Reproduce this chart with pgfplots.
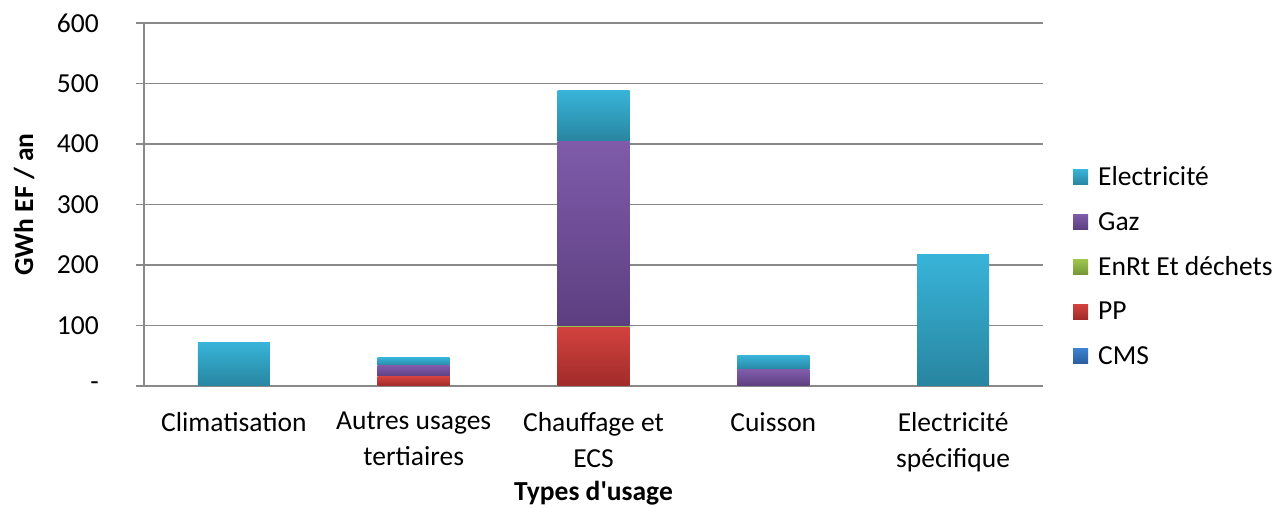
\documentclass[border=0pt]{standalone}
\usepackage{fontspec}
\setmainfont{Carlito}
\usepackage{pgfplots}
\pgfplotsset{compat=1.18}

\definecolor{gridgray}{HTML}{898989}
\definecolor{elecT}{HTML}{38B4D9}
\definecolor{elecB}{HTML}{2885A0}
\definecolor{gazT}{HTML}{7F5BAA}
\definecolor{gazB}{HTML}{5C3F80}
\definecolor{enrT}{HTML}{9DC64D}
\definecolor{enrB}{HTML}{759638}
\definecolor{ppT}{HTML}{D2423E}
\definecolor{ppB}{HTML}{A02B29}
\definecolor{cmsT}{HTML}{3B82D2}
\definecolor{cmsB}{HTML}{2A5E9C}

\newcommand\chartfont{\fontsize{27.5}{36}\selectfont}

\pgfplotsset{
    elec/.style={draw=none, shading=axis, top color=elecT, bottom color=elecB},
    gaz/.style={draw=none, shading=axis, top color=gazT, bottom color=gazB},
    enr/.style={draw=none, shading=axis, top color=enrT, bottom color=enrB},
    pp/.style={draw=none, shading=axis, top color=ppT, bottom color=ppB},
    cms/.style={draw=none, shading=axis, top color=cmsT, bottom color=cmsB},
    % one axis per category so that each bar gets its own gradient
    catax/.style={
        at={(0,0)}, anchor=south west,
        scale only axis,
        width=899pt, height=363pt,
        ybar stacked,
        bar width=72pt,
        xmin=-0.5, xmax=4.5,
        ymin=0, ymax=600,
        enlarge x limits=false,
        enlarge y limits=false,
        clip=false,
    },
}

\begin{document}
\begin{tikzpicture}
\useasboundingbox (-144pt,-122pt) rectangle (1133pt,386pt);
\begin{axis}[
    catax,
    axis lines*=left,
    axis line style={gridgray, line width=1.3pt},
    ymajorgrids,
    grid style={gridgray, line width=1.3pt},
    tick align=outside,
    major tick length=8pt,
    tick style={gridgray, line width=1.3pt},
    ytick={0,100,...,600},
    yticklabels={-\hspace{10pt},100,200,300,400,500,600},
    yticklabel style={font=\chartfont, inner sep=0pt, anchor=east, xshift=-37pt},
    xtick={0,1,2,3,4},
    xticklabels={Climatisation,{Autres usages\\tertiaires},{Chauffage et\\ECS},Cuisson,{Electricité\\spécifique}},
    x tick style={draw=none},
    xticklabel style={font=\chartfont, align=center, inner sep=0pt, anchor=north, yshift=-18pt},
    extra x ticks={-0.5,0.5,1.5,2.5,3.5,4.5},
    extra x tick labels={},
    extra x tick style={grid=none, major tick length=10pt,
        tick style={gridgray, line width=1.3pt, draw=gridgray}},
    xlabel={Types d\textquotesingle usage},
    ylabel={GWh EF / an},
    xlabel style={font=\chartfont\bfseries, at={(axis description cs:0.5,-0.295)}, anchor=center},
    ylabel style={font=\chartfont\bfseries, at={(axis description cs:-0.1335,0.5)}, anchor=center},
    legend style={at={(axis description cs:1.03,0.33)}, anchor=west, draw=none, fill=none,
        font=\chartfont, row sep=21pt},
    legend cell align=left,
    reverse legend,
    legend image code/.code={\path[#1] (0pt,-7.5pt) rectangle (15pt,7.5pt); \path (23pt,0pt);},
]
\addlegendimage{cms}\addlegendentry{CMS}
\addlegendimage{pp}\addlegendentry{PP}
\addlegendimage{enr}\addlegendentry{EnRt Et déchets}
\addlegendimage{gaz}\addlegendentry{Gaz}
\addlegendimage{elec}\addlegendentry{Electricité}
% Climatisation
\addplot[elec, forget plot] coordinates {(0,72.4)};
\end{axis}

% Autres usages tertiaires
\begin{axis}[catax, hide axis]
\addplot[pp] coordinates {(1,15.5)};
\addplot[gaz] coordinates {(1,17.7)};
\addplot[elec] coordinates {(1,13.7)};
\end{axis}

% Chauffage et ECS
\begin{axis}[catax, hide axis]
\addplot[pp] coordinates {(2,97)};
\addplot[enr] coordinates {(2,2.5)};
\addplot[gaz] coordinates {(2,304.5)};
\addplot[elec] coordinates {(2,84)};
\end{axis}

% Cuisson
\begin{axis}[catax, hide axis]
\addplot[gaz] coordinates {(3,26.5)};
\addplot[elec] coordinates {(3,24.4)};
\end{axis}

% Electricite specifique
\begin{axis}[catax, hide axis]
\addplot[elec] coordinates {(4,218)};
\end{axis}
\end{tikzpicture}
\end{document}
